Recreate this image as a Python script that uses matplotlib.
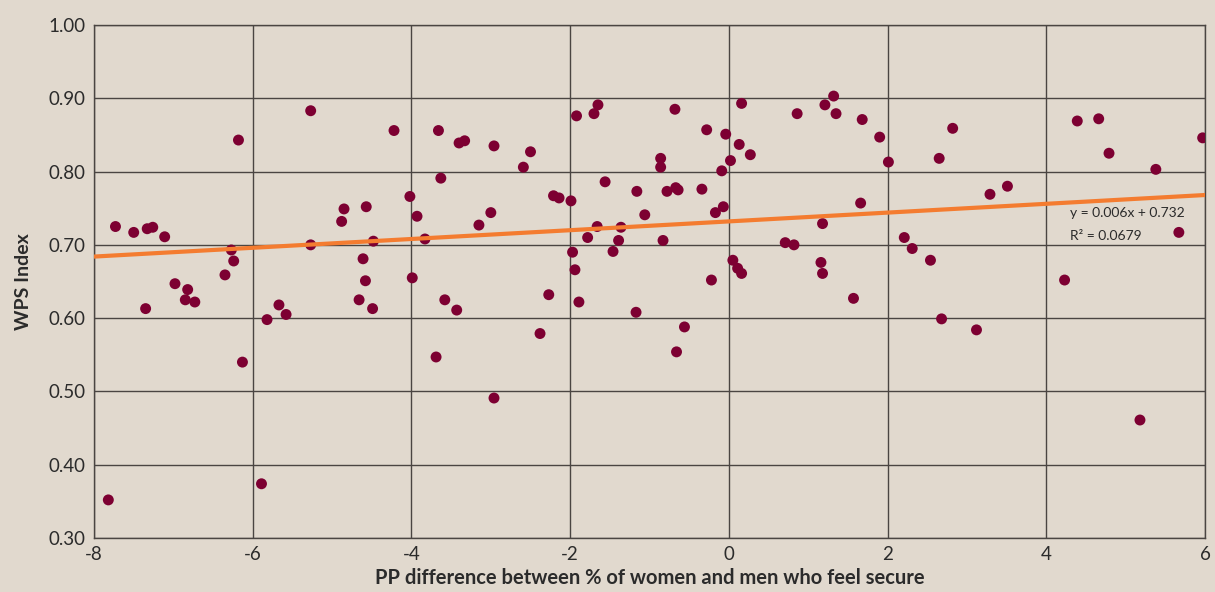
import matplotlib
matplotlib.use('Agg')
import matplotlib.pyplot as plt

# PP difference (women - men who feel secure) vs WPS Index
pp_diff = [
    -7.82, -7.73, -7.50, -7.33, -7.26, -7.11, -7.35, -6.98, -6.82, -6.85,
    -6.73, -6.35, -6.27, -6.24, -6.18, -6.13, -5.89, -5.82, -5.67, -5.58,
    -5.27, -5.27, -4.88, -4.85, -4.57, -4.48, -4.61, -4.58, -4.66, -4.49,
    -4.22, -3.66, -3.40, -3.33, -2.96, -2.50, -2.59, -1.92, -1.70, -1.65,
    -0.68, -0.86, -0.86, -3.63, -4.02, -3.93, -3.00, -3.15, -3.83, -2.21,
    -2.14, -1.99, -1.56, -1.16, -0.78, -0.67, -0.64, -1.06, -1.66, -1.36,
    -1.78, -1.39, -0.83, -1.97, -1.46, -1.94, -3.99, -3.58, -3.43, -2.27,
    -1.89, -1.17, -2.38, -3.69, -0.66, -2.96, 0.16, -0.28, -0.04, 0.13,
    0.27, 0.02, -0.09, -0.34, -0.07, -0.17, 0.05, 0.11, 0.16, -0.22,
    -0.56, 0.86, 1.21, 1.32, 1.35, 1.68, 1.90, 2.01, 2.65, 2.82,
    1.66, 1.18, 0.71, 0.82, 2.21, 2.31, 2.54, 1.16, 1.18, 1.57,
    2.68, 3.29, 3.51, 4.39, 4.66, 4.79, 5.38, 5.97, 5.67, 4.23,
    3.12, 5.18,
]
wps_index = [
    0.352, 0.725, 0.717, 0.722, 0.724, 0.711, 0.613, 0.647, 0.639, 0.625,
    0.622, 0.659, 0.693, 0.678, 0.843, 0.540, 0.374, 0.598, 0.618, 0.605,
    0.883, 0.700, 0.732, 0.749, 0.752, 0.705, 0.681, 0.651, 0.625, 0.613,
    0.856, 0.856, 0.839, 0.842, 0.835, 0.827, 0.806, 0.876, 0.879, 0.891,
    0.885, 0.818, 0.806, 0.791, 0.766, 0.739, 0.744, 0.727, 0.708, 0.767,
    0.764, 0.760, 0.786, 0.773, 0.773, 0.778, 0.775, 0.741, 0.725, 0.724,
    0.710, 0.706, 0.706, 0.690, 0.691, 0.666, 0.655, 0.625, 0.611, 0.632,
    0.622, 0.608, 0.579, 0.547, 0.554, 0.491, 0.893, 0.857, 0.851, 0.837,
    0.823, 0.815, 0.801, 0.776, 0.752, 0.744, 0.679, 0.668, 0.661, 0.652,
    0.588, 0.879, 0.891, 0.903, 0.879, 0.871, 0.847, 0.813, 0.818, 0.859,
    0.757, 0.729, 0.703, 0.700, 0.710, 0.695, 0.679, 0.676, 0.661, 0.627,
    0.599, 0.769, 0.780, 0.869, 0.872, 0.825, 0.803, 0.846, 0.717, 0.652,
    0.584, 0.461,
]

# linear trendline as printed on the chart
slope = 0.006
intercept = 0.732
r_squared = 0.0679

x_ticks = [-8, -6, -4, -2, 0, 2, 4, 6]
y_ticks = [0.30, 0.40, 0.50, 0.60, 0.70, 0.80, 0.90, 1.00]

bg = '#e1d9ce'
grid_col = '#4a4542'
text_col = '#2b2b2b'

plt.rcParams['font.family'] = ['Lato', 'DejaVu Sans']

fig = plt.figure(figsize=(12.15, 5.92), dpi=100)
fig.patch.set_facecolor(bg)
ax = fig.add_axes([0.0774, 0.0912, 0.9144, 0.8666])
ax.set_facecolor(bg)

ax.set_xlim(-8, 6)
ax.set_ylim(0.30, 1.00)
ax.set_xticks(x_ticks)
ax.set_yticks(y_ticks)
ax.set_xticklabels([str(t) for t in x_ticks])
ax.set_yticklabels([f'{t:.2f}' for t in y_ticks])
ax.grid(True, color=grid_col, linewidth=1.0, zorder=0)
ax.set_axisbelow(True)
for s in ax.spines.values():
    s.set_color(grid_col)
    s.set_linewidth(1.0)
ax.tick_params(length=0, labelsize=13.5, colors=text_col, pad=6)

ax.scatter(pp_diff, wps_index, s=62, color='#7d0032', edgecolors='none', zorder=3)

x_line = [-8, 6]
y_line = [slope * v + intercept for v in x_line]
ax.plot(x_line, y_line, color='#f47c30', linewidth=3, zorder=4)

ax.text(4.30, 0.744, f'y = {slope:.3f}x + {intercept:.3f}', fontsize=10,
        color=text_col, va='center', ha='left', zorder=5)
ax.text(4.30, 0.712, f'R² = {r_squared}', fontsize=10,
        color=text_col, va='center', ha='left', zorder=5)

ax.set_xlabel('PP difference between % of women and men who feel secure',
              fontsize=14.5, fontweight='bold', color=text_col, labelpad=3)
ax.set_ylabel('WPS Index', fontsize=14, fontweight='bold', color=text_col, labelpad=12)

plt.savefig('out.png', dpi=100, facecolor=bg)
